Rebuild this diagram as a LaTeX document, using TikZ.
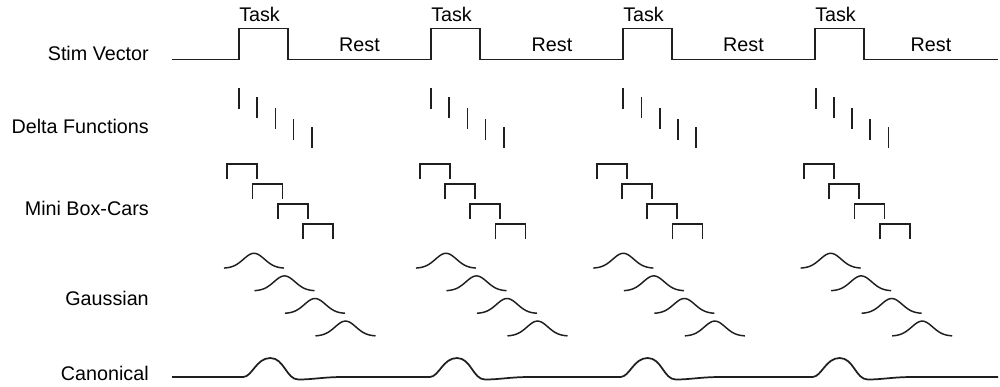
\documentclass[tikz,border=0pt]{standalone}
\usepackage{fontspec}
\setmainfont{Liberation Sans}
\begin{document}
\begin{tikzpicture}[x=0.75pt,y=-0.75pt,
  wave/.style={draw=black!88, line width=1.1pt, line join=miter},
  bold wave/.style={wave, line width=1.3pt},
  rowlabel/.style={font=\fontsize{14.8}{17}\selectfont, inner sep=0pt, anchor=base east},
  tag/.style={font=\fontsize{14.8}{17}\selectfont, inner sep=0pt}]
\useasboundingbox (0,0) rectangle (1000,386);

% row labels
\node[rowlabel] (stim)   at (149,60)    {Stim Vector};
\node[rowlabel] (delta)  at (149,133)   {Delta Functions};
\node[rowlabel] (boxcar) at (149,215)   {Mini Box-Cars};
\node[rowlabel] (gauss)  at (149,305.5) {Gaussian};
\node[rowlabel] (canon)  at (149,380)   {Canonical};

% block labels above the stimulus vector
\foreach \s [count=\i] in {239,431,623,815}
  \node[tag, anchor=base west] (task\i) at (\s,21.7) {Task};
\node[tag, anchor=base] (rest1) at (359.5,51) {Rest};
\node[tag, anchor=base] (rest2) at (552,51)   {Rest};
\node[tag, anchor=base] (rest3) at (743.5,51) {Rest};
\node[tag, anchor=base] (rest4) at (931,51)   {Rest};

% stimulus vector: on/off blocks
\draw[wave] (172,59.3)
  foreach \s in {239,431,623,815} { -- (\s,59.3) -- (\s,28.7) -- (\s+49,28.7) -- (\s+49,59.3) }
  -- (998,59.3);

% delta functions
\foreach \D in {239,431,623.3,815.7}
  \foreach \t [count=\k from 0] in {88.3,97.3,108.3,119,127.3}
    \draw[bold wave] (\D+18.2*\k,\t) -- ++(0,21);

% mini box-cars
\foreach \B in {227.3,419.7,596.7,804}
  \foreach \k in {0,...,3}
    \draw[bold wave] (\B+25.3*\k,179.3+20*\k) -- ++(0,-15.3) -- ++(30,0) -- ++(0,15.3);

% gaussian kernels
\foreach \L in {224,416,593.3,800.7}
  \foreach \k in {0,...,3}
    \draw[wave] plot[domain=-30:30, samples=49, smooth]
      ({\L+30+30.5*\k+\x}, {268.3+22.6*\k-15*exp(-0.5*(\x/10.5)*(\x/10.5))});

% canonical response
\draw[bold wave] (172,377)
  foreach \r in {243.3,430,620.7,812.7} {
    -- (\r,377)
    .. controls (\r+9,376.5) and (\r+13,358) .. (\r+27,358)
    .. controls (\r+41,358) and (\r+43,379.5) .. (\r+55,379.5)
    .. controls (\r+70,379.5) and (\r+80,377) .. (\r+100,377)
  }
  -- (998,377);
\end{tikzpicture}
\end{document}
